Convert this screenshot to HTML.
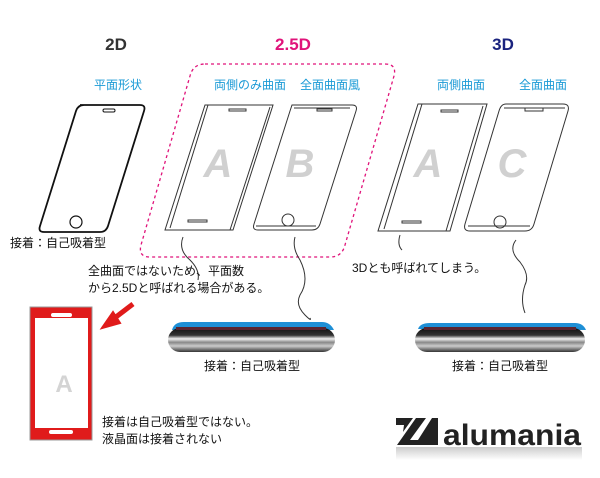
<!DOCTYPE html>
<html><head><meta charset="utf-8"><style>
html,body{margin:0;padding:0;background:#fff;width:600px;height:478px;overflow:hidden}
text{font-family:"Liberation Sans","Noto Sans CJK JP",sans-serif}
</style></head><body>
<svg width="600" height="478" viewBox="0 0 600 478" xmlns="http://www.w3.org/2000/svg">
<defs>
<linearGradient id="sl" x1="0" y1="0" x2="0" y2="1">
<stop offset="0" stop-color="#111"/><stop offset="0.3" stop-color="#333"/>
<stop offset="0.45" stop-color="#f0f0f0"/><stop offset="0.6" stop-color="#888"/>
<stop offset="0.75" stop-color="#ccc"/><stop offset="1" stop-color="#333"/>
</linearGradient>
<linearGradient id="lg" x1="0" y1="0" x2="0" y2="1">
<stop offset="0" stop-color="#555"/><stop offset="1" stop-color="#fff"/>
</linearGradient>
</defs>
<text x="116" y="50" font-size="17" font-weight="bold" fill="#333" text-anchor="middle">2D</text>
<text x="293" y="50" font-size="17" font-weight="bold" fill="#e0137a" text-anchor="middle">2.5D</text>
<text x="503" y="50" font-size="17" font-weight="bold" fill="#1a237e" text-anchor="middle">3D</text>
<g font-size="12" fill="#1a9ad6" text-anchor="middle">
<text x="118" y="89">平面形状</text>
<text x="250" y="89">両側のみ曲面</text>
<text x="330" y="89">全面曲面風</text>
<text x="461" y="89">両側曲面</text>
<text x="543" y="89">全面曲面</text>
</g>
<path d="M205 64 L385 64 Q397 64 394 76 L345 245 Q342 257 330 257 L150 257 Q138 257 141 245 L190 76 Q193 64 205 64 Z" fill="none" stroke="#e0137a" stroke-width="1.3" stroke-dasharray="3,3"/>
<path d="M80 105 L140 105 Q146 105 144 111 L108 226 Q106 232 100 232 L44 232 Q38 232 40 226 L76 111 Q78 105 84 105 Z" fill="#fff" stroke="#111" stroke-width="1.8"/>
<rect x="103" y="109" width="12" height="3" rx="1.5" fill="none" stroke="#111"/>
<circle cx="76" cy="222" r="6" fill="none" stroke="#111" stroke-width="1.2"/>
<g fill="none" stroke="#333" stroke-width="1">
<path d="M205 105 L273 105 L233 230 L165 230 Z"/>
<path d="M208 105 L170 228 M270 107 L230 230"/>
<rect x="229" y="109" width="17" height="2"/>
<rect x="188" y="220" width="19" height="2"/>
<path d="M292 105 L352 105 Q358 105 356 111 L320 224 Q318 230 312 230 L258 230 Q252 230 254 224 L290 111 Z"/>
<path d="M294 108 L350 108 M256 226 L316 226"/>
<rect x="317" y="109" width="15" height="2"/>
<circle cx="288" cy="220" r="6"/>
<path d="M418 104 L487 104 L450 231 L378 231 Z"/>
<path d="M422 104 L384 229 M483 106 L446 231"/>
<rect x="441" y="110" width="17" height="2"/>
<rect x="402" y="221" width="19" height="2"/>
<path d="M506 104 L563 104 Q570 104 568 111 L534 224 Q532 231 525 231 L470 231 Q463 231 465 224 L499 111 Q501 104 506 104 Z"/>
<path d="M504 108 L565 108 M468 226 L530 226"/>
<rect x="525" y="108" width="18" height="3"/>
<circle cx="500" cy="222" r="6"/>
<path d="M183 237 Q178 250 190 260 Q200 270 198 280"/>
<path d="M295 237 Q292 248 300 260 Q310 280 300 295 Q295 305 305 315 Q312 322 310 318"/>
<path d="M400 235 Q397 245 402 250"/>
<path d="M516 240 Q508 250 520 262 Q530 275 525 285 Q520 300 525 313"/>
</g>
<g font-size="40" font-style="italic" font-weight="bold" fill="#d0d0d0" text-anchor="middle">
<text x="218" y="177">A</text><text x="300" y="177">B</text>
<text x="428" y="177">A</text><text x="512" y="177">C</text>
</g>
<g font-size="12" fill="#111">
<text x="10" y="247">接着：自己吸着型</text>
<text x="88" y="275">全曲面ではないため、平面数</text>
<text x="88" y="292">から2.5Dと呼ばれる場合がある。</text>
<text x="352" y="272">3Dとも呼ばれてしまう。</text>
<text x="252" y="370" text-anchor="middle">接着：自己吸着型</text>
<text x="500" y="370" text-anchor="middle">接着：自己吸着型</text>
<text x="102" y="426">接着は自己吸着型ではない。</text>
<text x="102" y="443">液晶面は接着されない</text>
</g>
<rect x="30" y="307" width="62" height="133" fill="#e01b1b" stroke="#999"/>
<rect x="35" y="318" width="53" height="110" fill="#fff"/>
<rect x="51" y="313" width="21" height="4" rx="2" fill="#fff"/>
<rect x="49" y="430" width="24" height="4" rx="2" fill="#fff"/>
<text x="64" y="392" font-size="24" font-weight="bold" fill="#d4d4d4" text-anchor="middle">A</text>
<path d="M133 304 L112 320" stroke="#e01b1b" stroke-width="5"/>
<path d="M102 328 L113 312 L120 323 Z" fill="#e01b1b" stroke="#e01b1b" stroke-width="2"/>
<!-- 2.5D slab -->
<path d="M172 330 Q174 322 184 322 L322 322 Q330 322 334 330 Z" fill="#1e8fd6"/>
<rect x="168" y="328" width="167" height="24" rx="12" fill="url(#sl)"/>
<rect x="176" y="327" width="150" height="3" fill="#5a2530"/>
<!-- 3D slab -->
<path d="M418 329 Q420 323 430 323 L575 323 Q583 323 586 330 Z" fill="#1e8fd6"/>
<rect x="415" y="328" width="170" height="24" rx="12" fill="url(#sl)"/>
<rect x="424" y="327" width="152" height="3" fill="#5a2530"/>
<!-- logo -->
<path d="M397 445 L416 418 L426 418 L410 440 L438 440 L438 445 Z" fill="#222"/>
<path d="M418 440 L432 418 L438 418 L438 440 Z" fill="#222"/>
<path d="M403 432 L413 418 L396 418 L396 425 L404 425 Z" fill="#222"/>
<text x="443" y="445" font-size="30" font-weight="bold" fill="#222" textLength="138" lengthAdjust="spacingAndGlyphs">alumania</text>
<rect x="396" y="447" width="186" height="13" fill="url(#lg)" opacity="0.3"/>
</svg>
</body></html>
